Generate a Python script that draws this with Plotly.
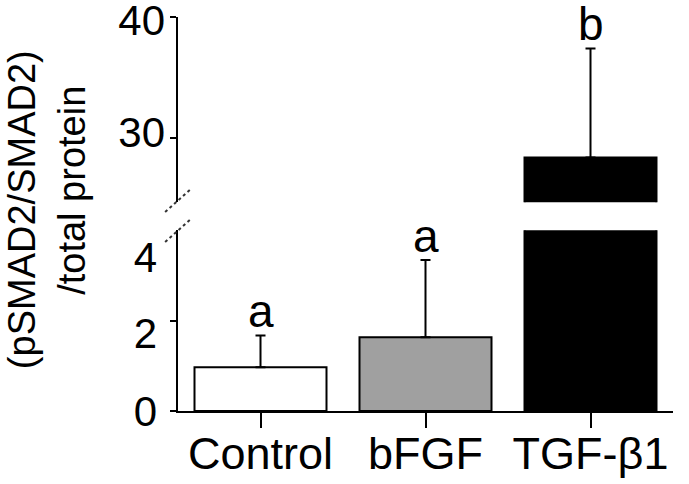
import plotly.graph_objects as go

categories = ["Control", "bFGF", "TGF-β1"]
means = [0.97, 1.63, 28.4]
errors = [0.7, 1.71, 9.0]
letters = ["a", "a", "b"]
bar_colors = ["white", "#a0a0a0", "black"]

lower_range = [0, 4.0]
upper_range = [24.7, 40]
lower_ticks = [0, 2, 4]
upper_ticks = [30, 40]

FONT = "Liberation Sans, Arial, sans-serif"

fig = go.Figure()

err_style = dict(type="data", symmetric=False, arrayminus=[0] * len(means),
                 thickness=2, width=5, color="black")

# lower panel: all bars
fig.add_trace(go.Bar(
    x=categories, y=means, width=0.8,
    marker=dict(color=bar_colors, line=dict(color="black", width=2)),
    error_y=dict(array=[e if m + e <= lower_range[1] else 0 for m, e in zip(means, errors)], **err_style),
    xaxis="x", yaxis="y", showlegend=False, cliponaxis=True,
))
# upper panel: same bars (only tall ones reach this range)
fig.add_trace(go.Bar(
    x=categories, y=[m if m > upper_range[0] else None for m in means], width=0.8,
    marker=dict(color=bar_colors, line=dict(color="black", width=2)),
    error_y=dict(array=[e if m > upper_range[0] else 0 for m, e in zip(means, errors)], **err_style),
    xaxis="x2", yaxis="y2", showlegend=False, cliponaxis=True,
))

annotations = []
for c, m, e, l in zip(categories, means, errors, letters):
    top = m + e
    annotations.append(dict(
        x=c, y=top, xref="x", yref="y" if top <= lower_range[1] else "y2",
        text=l, showarrow=False, yanchor="bottom", xanchor="center", yshift=-4,
        font=dict(family=FONT, size=46, color="black"),
    ))

# y axis title (two lines)
annotations.append(dict(x=-0.315, y=0.51, xref="paper", yref="paper",
                        xanchor="center", yanchor="middle",
                        text="(pSMAD2/SMAD2)", textangle=-90, showarrow=False,
                        font=dict(family=FONT, size=38, color="black")))
annotations.append(dict(x=-0.214, y=0.559, xref="paper", yref="paper",
                        xanchor="center", yanchor="middle",
                        text="/total protein", textangle=-90, showarrow=False,
                        font=dict(family=FONT, size=38, color="black")))

shapes = [
    dict(type="line", xref="paper", yref="paper", x0=-0.026, y0=0.505, x1=0.024, y1=0.561,
         line=dict(color="#333", width=2, dash="dot")),
    dict(type="line", xref="paper", yref="paper", x0=-0.026, y0=0.429, x1=0.024, y1=0.485,
         line=dict(color="#333", width=2, dash="dot")),
]

axis_common = dict(showline=True, linecolor="black", linewidth=2, ticks="outside",
                   tickcolor="black", tickwidth=2, showgrid=False, zeroline=False,
                   automargin=False, ticklabeloverflow="allow")
ytick_font = dict(family=FONT, size=42, color="black")

layout_axes = dict(
    xaxis=dict(domain=[0, 1], anchor="y", range=[-0.5, 2.5], ticklen=15,
               ticklabelstandoff=-13,
               tickfont=dict(family=FONT, size=45, color="black"), **axis_common),
    xaxis2=dict(domain=[0, 1], anchor="y2", range=[-0.5, 2.5], visible=False, matches="x",
                automargin=False),
    # tick marks only; labels are drawn by overlay axes below
    yaxis=dict(domain=[0, 0.459], range=lower_range,
               tickvals=[v for v in lower_ticks if v < lower_range[1]],
               showticklabels=False, ticklen=6, **axis_common),
    yaxis2=dict(domain=[0.530, 1], range=upper_range, tickvals=upper_ticks,
                showticklabels=False, ticklen=6, **axis_common),
)

# label-only overlay axes (one per tick label, with its own vertical nudge)
label_shift = {0: 0, 2: 13, 4: 27, 30: -6, 40: 3}
label_standoff = {0: 20, 2: 20, 4: 20, 30: 12, 40: 12}
n = 3
for base_y, base_x, rng, ticks in [("y", "x", lower_range, lower_ticks),
                                    ("y2", "x2", upper_range, upper_ticks)]:
    for v in ticks:
        fig.add_trace(go.Scatter(x=[], y=[], xaxis=base_x, yaxis=f"y{n}", showlegend=False))
        layout_axes[f"yaxis{n}"] = dict(
            overlaying=base_y, anchor=base_x, range=rng, tickvals=[v],
            showline=False, ticks="", showgrid=False, zeroline=False, side="left",
            automargin=False, ticklabeloverflow="allow",
            ticklabelshift=label_shift[v], ticklabelstandoff=label_standoff[v],
            tickfont=ytick_font,
        )
        n += 1

fig.update_layout(
    width=689, height=484,
    margin=dict(l=178, r=16, t=17, b=73),
    paper_bgcolor="white", plot_bgcolor="white",
    bargap=0.2,
    annotations=annotations,
    shapes=shapes,
    **layout_axes,
)

fig.write_html("out.html", config={"displayModeBar": False},
               post_script="document.body.style.margin='0';")
